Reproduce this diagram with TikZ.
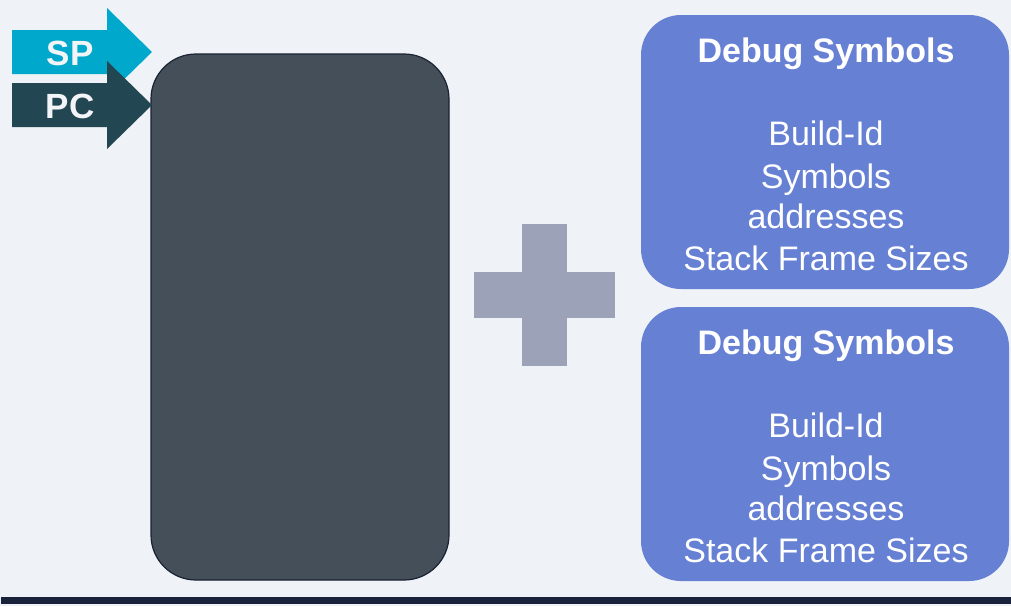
\documentclass[tikz,border=0pt]{standalone}
\usepackage{fontspec}
\setmainfont{Liberation Sans}
\definecolor{bgc}{HTML}{EFF2F7}
\definecolor{spc}{HTML}{00A9CB}
\definecolor{pcc}{HTML}{234653}
\definecolor{stackc}{HTML}{454F59}
\definecolor{stackedge}{HTML}{1A2233}
\definecolor{plusc}{HTML}{9CA2B8}
\definecolor{symc}{HTML}{6680D4}
\definecolor{barc}{HTML}{18223A}
\definecolor{txtc}{HTML}{F2F4F8}
\begin{document}
\begin{tikzpicture}[x=1pt,y=-1pt,
  regtext/.style={text=txtc,font=\fontsize{35}{35}\selectfont\bfseries,anchor=base,inner sep=0pt},
  symbox/.style={fill=symc,draw=none,rounded corners=40pt},
  symtitle/.style={text=white,font=\fontsize{34}{34}\selectfont\bfseries,anchor=base,inner sep=0pt},
  symline/.style={text=white,font=\fontsize{34}{34}\selectfont,anchor=base,inner sep=0pt}]
  % canvas
  \fill[bgc] (0,0) rectangle (1011,606);
  \useasboundingbox (0,0) rectangle (1011,606);

  % stack memory block
  \fill[stackc,draw=stackedge,line width=1.2pt,rounded corners=45pt] (151,54) rectangle (449,580);
  \coordinate (stack) at (151,105);

  % SP register arrow
  \fill[spc] (12,30) -- (107,30) -- (107,8) -- (152,52) -- (107,96) -- (107,74) -- (12,74) -- cycle;
  \node[regtext] (sp) at (70,65) {SP};

  % PC register arrow
  \fill[pcc] (12,83) -- (107,83) -- (107,61) -- (152,105) -- (107,149) -- (107,127) -- (12,127) -- cycle;
  \node[regtext] (pc) at (70,118) {PC};

  % plus sign
  \fill[plusc] (522,224) rectangle (567,366);
  \fill[plusc] (474,272) rectangle (615,318);

  % debug symbol tables
  \foreach \dy/\nm in {0/a,292/b}{
    \begin{scope}[yshift=-\dy pt]
      \fill[symbox] (641,15) rectangle (1009,289);
      \node[symtitle] (title\nm) at (826,62) {Debug Symbols};
      \node[symline] (bid\nm) at (826,145) {Build-Id};
      \node[symline] (sym\nm) at (826,188) {Symbols};
      \node[symline] (addr\nm) at (826,228) {addresses};
      \node[symline] (frame\nm) at (826,270) {Stack Frame Sizes};
    \end{scope}
  }

  % base line
  \fill[barc] (1,597) rectangle (1011,604);
\end{tikzpicture}
\end{document}
